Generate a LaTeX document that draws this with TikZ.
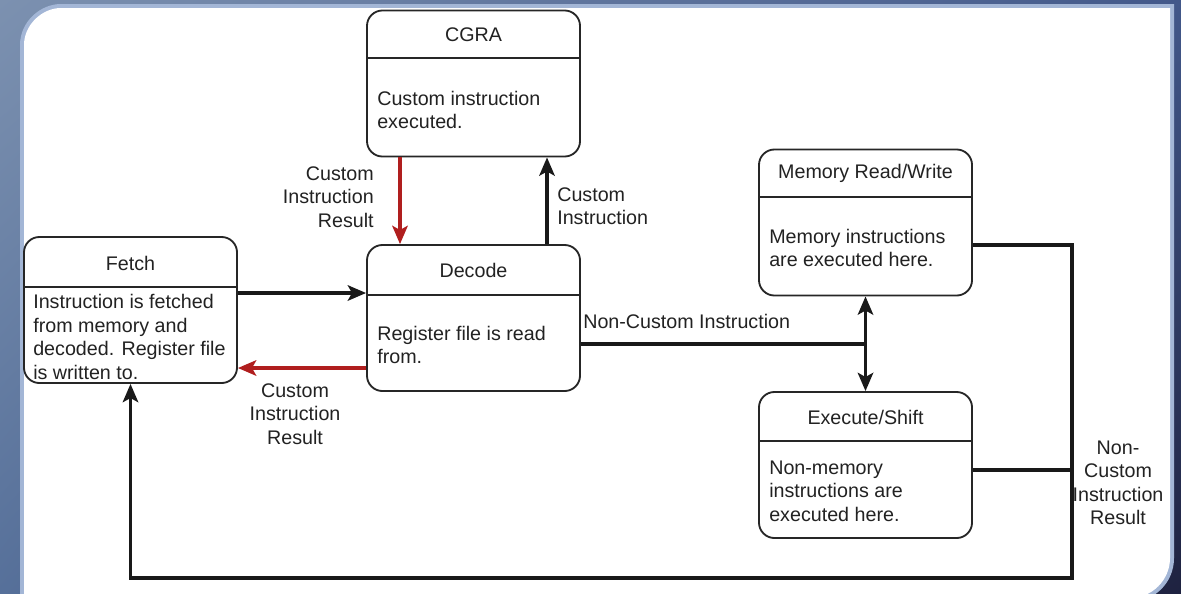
\documentclass[tikz,border=0pt]{standalone}
\usepackage{fontspec}
\setmainfont{Liberation Sans}
\usetikzlibrary{arrows.meta,shadings}
\definecolor{bgUL}{HTML}{7C91B0}
\definecolor{bgUR}{HTML}{42588A}
\definecolor{bgLL}{HTML}{56709A}
\definecolor{bgLR}{HTML}{1E2240}
\definecolor{lightb}{HTML}{A3B6D6}
\definecolor{txt}{HTML}{222222}
\definecolor{redc}{HTML}{B01E1E}
\begin{document}
\begin{tikzpicture}[x=0.025cm,y=-0.025cm,
  box/.style={draw=black!85, line width=1.3pt, rounded corners=11pt, fill=white,
    minimum width=5.325cm, minimum height=3.65cm, inner sep=0pt},
  ttl/.style={font=\fontsize{14}{16.7}\selectfont, text=txt, inner sep=0pt},
  bodytxt/.style={ttl, align=left, anchor=west},
  divline/.style={draw=black!85, line width=1.3pt},
  conn/.style={line width=2.2pt, draw=black!90},
  redconn/.style={line width=2.2pt, draw=redc},
  tip/.style={-{Stealth[length=13pt,width=11pt,inset=3pt]}},
  dtip/.style={{Stealth[length=13pt,width=11pt,inset=3pt]}-{Stealth[length=13pt,width=11pt,inset=3pt]}}
]
\useasboundingbox (0,0) rectangle (1181,593);
% background
\shade[upper left=bgUL, upper right=bgUR, lower left=bgLL, lower right=bgLR] (0,0) rectangle (1181,593);
\fill[lightb] (20,602) -- (20,45) .. controls (20,22) and (40,4) .. (61,4) -- (1174,4) -- (1174,558)
  .. controls (1174,583) and (1154,602) .. (1130,602) -- cycle;
\fill[white] (24,602) -- (24,45) .. controls (24,25) and (42,8) .. (61,8) -- (1170,8) -- (1170,558)
  .. controls (1170,580) and (1152,598) .. (1130,598) -- (24,598) -- cycle;

% boxes
\node[box] (cgra) at (473.5,83.5) {};
\node[box] (fetch) at (130.5,310) {};
\node[box] (decode) at (473.5,318) {};
\node[box] (mem) at (865.5,222.5) {};
\node[box] (exec) at (865.5,465) {};

% helper coordinates
\coordinate (y58) at (0,58);
\coordinate (y287) at (0,287);
\coordinate (y295) at (0,295);
\coordinate (y197) at (0,197);
\coordinate (y441) at (0,441);
\coordinate (y293) at (0,293);
\coordinate (y368) at (0,368);
\coordinate (y344) at (0,344);
\coordinate (y245) at (0,245);
\coordinate (y470) at (0,470);
\coordinate (x400) at (400,0);
\coordinate (x547) at (547,0);

% dividers
\draw[divline] (cgra.west |- y58) -- (cgra.east |- y58);
\draw[divline] (fetch.west |- y287) -- (fetch.east |- y287);
\draw[divline] (decode.west |- y295) -- (decode.east |- y295);
\draw[divline] (mem.west |- y197) -- (mem.east |- y197);
\draw[divline] (exec.west |- y441) -- (exec.east |- y441);

% titles
\node[ttl] (cgraT) at (473.5,35) {CGRA};
\node[ttl] (fetchT) at (130.5,263) {Fetch};
\node[ttl] (decodeT) at (473.5,270) {Decode};
\node[ttl] (memT) at (865.5,173) {Memory Read/Write};
\node[ttl] (execT) at (865.5,417) {Execute/Shift};

% bodies
\node[bodytxt] (cgraB) at (377,110) {Custom instruction\\executed.};
\node[bodytxt] (fetchB) at (33,337) {Instruction is fetched\\from memory and\\decoded. Register file\\is written to.};
\node[bodytxt] (decodeB) at (377,345) {Register file is read\\from.};
\node[bodytxt] (memB) at (769,248) {Memory instructions\\are executed here.};
\node[bodytxt] (execB) at (769,491) {Non-memory\\instructions are\\executed here.};

% connectors
\draw[conn, tip] (fetch.east |- y293) -- (decode.west |- y293);
\draw[redconn, tip] (decode.west |- y368) -- (fetch.east |- y368);
\draw[redconn, tip] (cgra.south -| x400) -- (decode.north -| x400);
\draw[conn, tip] (decode.north -| x547) -- (cgra.south -| x547);

\coordinate (j1) at (865.5,344);
\draw[conn] (decode.east |- y344) -- (j1);
\draw[conn, dtip] (mem.south) -- (exec.north);

\coordinate (c1) at (1072,245);
\coordinate (c2) at (1072,578);
\coordinate (c3) at (130.5,578);
\coordinate (c4) at (1072,470);
\draw[conn, tip] (mem.east |- y245) -- (c1) -- (c2) -- (c3) -- (fetch.south);
\draw[conn] (exec.east |- y470) -- (c4);

% labels
\node[ttl, align=right, anchor=east] (l1) at (374,197) {Custom\\Instruction\\Result};
\node[ttl, align=left, anchor=west] (l2) at (557,206) {Custom\\Instruction};
\node[ttl, align=center] (l3) at (295,414) {Custom\\Instruction\\Result};
\node[ttl, anchor=west] (l4) at (583,321) {Non-Custom Instruction};
\node[ttl, align=center] (l5) at (1118,483) {Non-\\Custom\\Instruction\\Result};
\end{tikzpicture}
\end{document}
